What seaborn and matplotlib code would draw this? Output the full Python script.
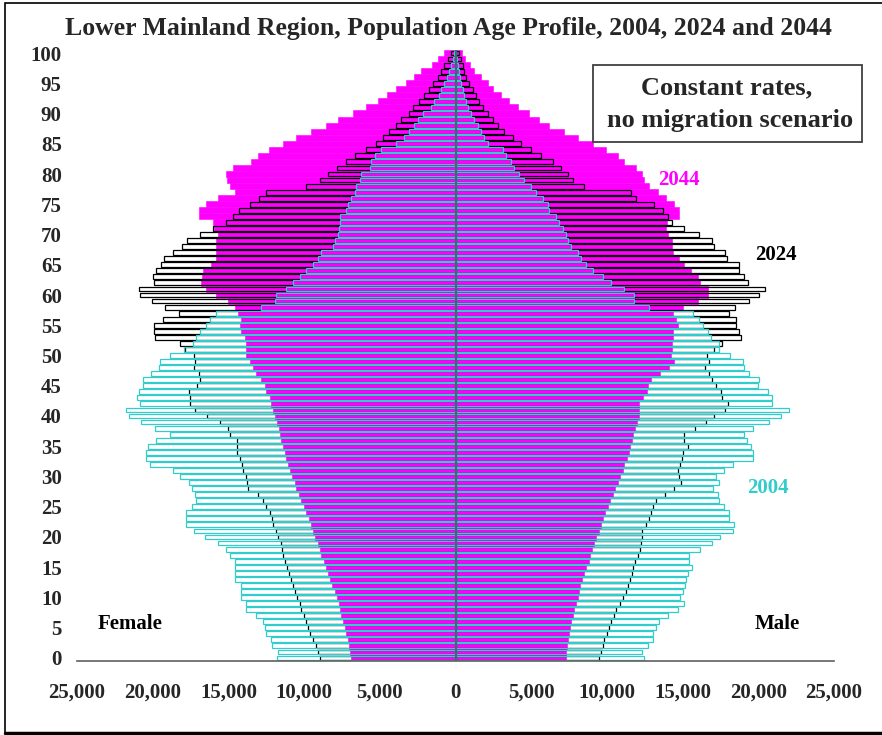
import numpy as np
import matplotlib
matplotlib.use("Agg")
import matplotlib.pyplot as plt
from matplotlib.patches import Rectangle
from matplotlib.lines import Line2D
import seaborn as sns

# Population by single year of age (0 .. 100+)
ages = list(range(101))

female_2004 = [11790, 11730, 12100, 12170, 12500, 12610, 12720, 13160, 13820, 13860,
               14150, 14150, 14150, 14590, 14590, 14540, 14590, 14920, 15140, 15690,
               16570, 17270, 17780, 17780, 17820, 17380, 17120, 17230, 17380, 17600,
               18220, 18660, 20150, 20420, 20420, 20310, 19800, 18880, 19870, 20750,
               21560, 21780, 20860, 21030, 20900, 20640, 20640, 20090, 19580, 19540,
               18830, 17930, 17340, 17120, 16900, 16460, 16240, 15800, 12830, 11950,
               11840, 11180, 10740, 10300, 9860, 9420, 9090, 8870, 8100, 7990,
               7770, 7700, 7660, 7660, 7220, 7110, 6890, 6670, 6560, 6340,
               6230, 5680, 5570, 5350, 4910, 3920, 3370, 3040, 2710, 2490,
               2160, 1610, 1390, 1100, 950, 730, 570, 400, 290, 180, 70]

female_2024 = [8980, 9090, 9200, 9420, 9590, 9750, 9860, 10030, 10190, 10300,
               10450, 10630, 10740, 10850, 11000, 11130, 11240, 11400, 11440, 11550,
               11730, 11840, 12060, 12120, 12280, 12500, 12720, 13050, 13710, 13770,
               13820, 14040, 14080, 14210, 14430, 14430, 14430, 14920, 15030, 15580,
               16410, 17180, 17560, 17560, 17600, 17070, 16900, 16940, 17270, 17230,
               17290, 17840, 18220, 19870, 19930, 19930, 19320, 18280, 19210, 20020,
               20860, 20900, 19930, 19980, 19800, 19430, 19270, 18660, 18040, 17730,
               16900, 16020, 15180, 14700, 14300, 13600, 12980, 12500, 9900, 8980,
               8430, 7830, 7220, 6670, 5900, 5240, 4800, 4360, 3920, 3590,
               3040, 2820, 2420, 2050, 1720, 1500, 1170, 950, 730, 510, 290]

female_2044 = [6890, 6950, 7040, 7110, 7220, 7330, 7440, 7550, 7660, 7700,
               7830, 7990, 8140, 8270, 8430, 8540, 8710, 8870, 8980, 9090,
               9310, 9420, 9530, 9680, 9860, 10030, 10190, 10340, 10520, 10630,
               10780, 10910, 11070, 11180, 11290, 11400, 11510, 11570, 11660, 11790,
               11950, 12060, 12170, 12280, 12500, 12610, 12830, 13160, 13380, 13600,
               13820, 13860, 13820, 13930, 14150, 14210, 14150, 14370, 14590, 15030,
               15840, 16500, 16790, 16720, 16680, 16130, 15800, 15800, 15800, 15800,
               15690, 15970, 16020, 16940, 16940, 16500, 15690, 14590, 14920, 15090,
               15140, 14700, 13490, 13050, 12320, 11400, 10560, 9530, 8540, 7770,
               6780, 5900, 5130, 4530, 3920, 3260, 2710, 2270, 1540, 1170, 730]

male_2004 = [12470, 12320, 12690, 13020, 13070, 13240, 13420, 14010, 14670, 15110,
             14830, 15050, 15180, 15220, 15330, 15620, 15400, 15400, 16150, 16940,
             17470, 18300, 18410, 18080, 18040, 17750, 17380, 17310, 16980, 17380,
             17200, 17750, 18350, 19620, 19620, 19510, 19230, 19070, 19670, 20680,
             21490, 22000, 20900, 20900, 20610, 19950, 20020, 19400, 19070, 18960,
             18130, 17420, 17380, 16870, 16650, 16320, 16060, 15660, 12760, 11810,
             11810, 11150, 10270, 9720, 9060, 8620, 8290, 8070, 7630, 7410,
             7300, 7080, 6860, 6640, 6200, 6090, 5760, 5320, 4990, 4550,
             4220, 3890, 3670, 3340, 3120, 2130, 1910, 1690, 1470, 1250,
             1030, 810, 700, 590, 480, 370, 310, 220, 150, 90, 40]

male_2024 = [9500, 9610, 9720, 9830, 9990, 10120, 10270, 10490, 10600, 10870,
             11040, 11260, 11370, 11530, 11660, 11750, 11880, 12030, 12190, 12250,
             12320, 12320, 12580, 12760, 12910, 13070, 13240, 13860, 14450, 14890,
             14780, 14670, 14830, 14960, 15000, 15330, 15110, 15110, 15840, 16540,
             17090, 17820, 17970, 17600, 17530, 17200, 16940, 16760, 16500, 16760,
             16590, 17090, 17600, 18850, 18740, 18520, 18520, 18080, 18480, 19400,
             20060, 20460, 19290, 19070, 18740, 18700, 17910, 17820, 17090, 16940,
             16100, 15110, 14300, 14010, 13680, 13130, 11920, 11590, 8510, 7740,
             7410, 6970, 6420, 5650, 4990, 4330, 3780, 3230, 2790, 2460,
             2130, 1800, 1580, 1360, 1140, 920, 700, 590, 480, 370, 260]

male_2044 = [7300, 7300, 7350, 7410, 7480, 7570, 7630, 7740, 7850, 7960,
             8070, 8180, 8230, 8360, 8510, 8620, 8800, 8890, 9020, 9170,
             9280, 9460, 9610, 9770, 9900, 10050, 10230, 10380, 10560, 10710,
             10870, 11040, 11150, 11310, 11440, 11530, 11660, 11750, 11880, 11990,
             12100, 12100, 12140, 12360, 12630, 12690, 12910, 13510, 14080, 14450,
             14230, 14300, 14300, 14340, 14390, 14670, 14560, 14390, 15000, 15990,
             16650, 16650, 16150, 16020, 15550, 15110, 14780, 14340, 14300, 14300,
             14010, 13900, 13950, 14780, 14780, 14450, 13900, 13350, 12760, 12470,
             12320, 11920, 11150, 10710, 9940, 9060, 8070, 7190, 6200, 5540,
             4880, 4110, 3560, 3010, 2460, 2130, 1690, 1250, 970, 660, 440]

x_ticks = list(range(-25000, 25001, 5000))
y_ticks = list(range(0, 101, 5))

MAGENTA = "#FF00FF"
TURQ = "#33CCCC"

sns.set_style("white")
plt.rcParams["font.family"] = ["Liberation Serif", "DejaVu Serif"]
plt.rcParams["font.weight"] = "bold"

fig = plt.figure(figsize=(8.82, 7.35), dpi=100)
ax = fig.add_axes([77 / 882, 1 - 661 / 735, (834 - 77) / 882, (661 - 50) / 735])


def draw_layer(values, sign, **kws):
    sns.barplot(x=sign * np.array(values), y=ages, orient="h", native_scale=True,
                errorbar=None, saturation=1, ax=ax, **kws)


# 2044: solid magenta bars at the back
for vals, sign in [(female_2044, -1), (male_2044, 1)]:
    draw_layer(vals, sign, width=1.0, color=MAGENTA, edgecolor=MAGENTA,
               linewidth=0.4, zorder=1)

# 2024: black outlines
for vals, sign in [(female_2024, -1), (male_2024, 1)]:
    draw_layer(vals, sign, width=0.8, fill=False, edgecolor="black",
               facecolor="none", linewidth=0.9, zorder=2)

# 2004: turquoise outlines on top
for vals, sign in [(female_2004, -1), (male_2004, 1)]:
    draw_layer(vals, sign, width=0.8, fill=False, edgecolor=TURQ,
               facecolor="none", linewidth=0.9, zorder=3)

ax.axvline(0, color="#2f6e6e", lw=1.4, zorder=4)

ax.set_xlim(-25000, 25000)
ax.set_ylim(-0.5, 100.5)
ax.set_xticks(x_ticks)
ax.set_xticklabels([f"{abs(v):,}" for v in x_ticks], fontsize=15, fontweight="bold")
ax.set_yticks(y_ticks)
ax.set_yticklabels([str(v) for v in y_ticks], fontsize=15, fontweight="bold")
ax.set_xlabel("")
ax.set_ylabel("")
ax.tick_params(axis="x", direction="out", length=4.5, width=1, color="black", pad=11)
ax.tick_params(axis="y", length=0, pad=11)
for side in ["top", "right", "left"]:
    ax.spines[side].set_visible(False)
ax.spines["bottom"].set_color("#606060")
ax.spines["bottom"].set_linewidth(1.2)
ax.spines["bottom"].set_zorder(5)
ax.set_facecolor("white")

# Year and sex labels
ax.text(14755, 79, "2044", color=MAGENTA, fontsize=15, fontweight="bold", ha="center", va="center")
ax.text(21160, 66.6, "2024", color="black", fontsize=15, fontweight="bold", ha="center", va="center")
ax.text(20630, 28.1, "2004", color=TURQ, fontsize=15, fontweight="bold", ha="center", va="center")
ax.text(-21500, 5.6, "Female", color="black", fontsize=15, fontweight="bold", ha="center", va="center")
ax.text(21230, 5.6, "Male", color="black", fontsize=15, fontweight="bold", ha="center", va="center")

# Title
fig.text(448 / 882, 1 - 28 / 735,
         "Lower Mainland Region, Population Age Profile, 2004, 2024 and 2044",
         fontsize=18.5, fontweight="bold", ha="center", va="center")

# Scenario box
fig.patches.append(Rectangle((593 / 882, 1 - 142 / 735), 269 / 882, 77 / 735,
                             transform=fig.transFigure, fill=True, facecolor="white",
                             edgecolor="#404040", lw=1.3, zorder=5))
fig.text(727 / 882, 1 - 88 / 735, "Constant rates,", fontsize=19, fontweight="bold",
         ha="center", va="center", zorder=6)
fig.text(730 / 882, 1 - 120 / 735, "no migration scenario", fontsize=19, fontweight="bold",
         ha="center", va="center", zorder=6)

# Outer frame
fig.patches.append(Rectangle((5 / 882, 2 / 735), 1.0, 1 - 5 / 735,
                             transform=fig.transFigure, fill=False,
                             edgecolor="black", lw=1.2, zorder=0))
fig.lines.append(Line2D([5 / 882, 1], [2 / 735, 2 / 735], transform=fig.transFigure,
                        color="black", lw=2.5))

fig.savefig("out.png", dpi=100, facecolor="white")
